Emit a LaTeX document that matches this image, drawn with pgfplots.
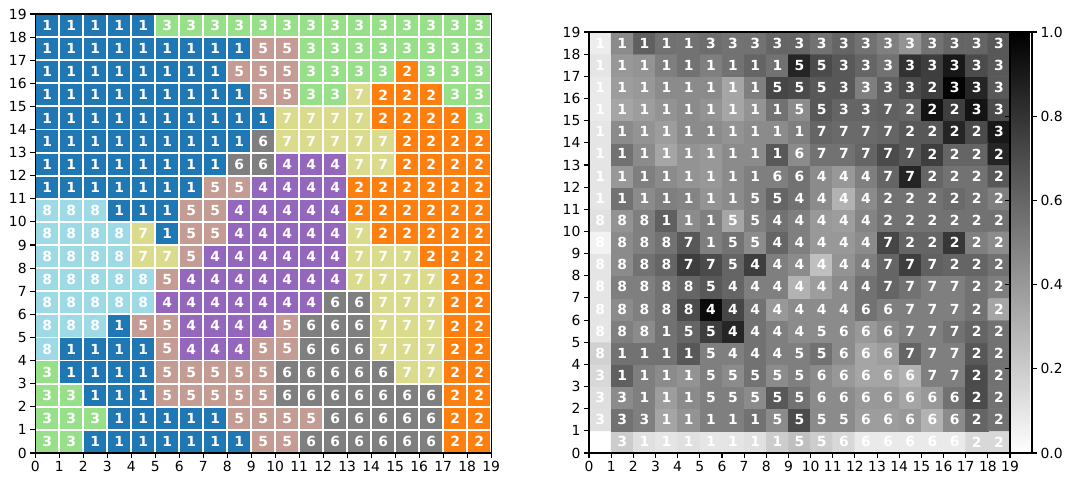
\documentclass[border=0pt]{standalone}
\usepackage{pgfplots}
\pgfplotsset{compat=1.18}
\usepackage{pgfplotstable}
\usepackage{fontspec}
\setmainfont{DejaVu Sans}

\pgfplotstableread{
x y lab v
0 0 3 0.00
1 0 3 0.20
2 0 1 0.12
3 0 1 0.10
4 0 1 0.12
5 0 1 0.10
6 0 1 0.10
7 0 1 0.12
8 0 1 0.20
9 0 5 0.25
10 0 5 0.20
11 0 6 0.15
12 0 6 0.08
13 0 6 0.08
14 0 6 0.08
15 0 6 0.08
16 0 6 0.08
17 0 2 0.15
18 0 2 0.15
0 1 3 0.12
1 1 3 0.55
2 1 3 0.50
3 1 1 0.35
4 1 1 0.42
5 1 1 0.50
6 1 1 0.50
7 1 1 0.55
8 1 5 0.45
9 1 5 0.70
10 1 5 0.45
11 1 5 0.45
12 1 6 0.38
13 1 6 0.38
14 1 6 0.40
15 1 6 0.30
16 1 6 0.45
17 1 2 0.60
18 1 2 0.55
0 2 3 0.13
1 2 3 0.45
2 2 1 0.50
3 2 1 0.38
4 2 1 0.45
5 2 5 0.50
6 2 5 0.50
7 2 5 0.45
8 2 5 0.65
9 2 5 0.55
10 2 6 0.45
11 2 6 0.45
12 2 6 0.40
13 2 6 0.40
14 2 6 0.35
15 2 6 0.40
16 2 6 0.55
17 2 2 0.70
18 2 2 0.55
0 3 3 0.15
1 3 1 0.62
2 3 1 0.50
3 3 1 0.45
4 3 1 0.42
5 3 5 0.50
6 3 5 0.45
7 3 5 0.55
8 3 5 0.45
9 3 5 0.50
10 3 6 0.45
11 3 6 0.40
12 3 6 0.35
13 3 6 0.35
14 3 6 0.30
15 3 7 0.50
16 3 7 0.50
17 3 2 0.70
18 3 2 0.55
0 4 8 0.18
1 4 1 0.55
2 4 1 0.55
3 4 1 0.55
4 4 1 0.65
5 4 5 0.50
6 4 4 0.50
7 4 4 0.55
8 4 4 0.50
9 4 5 0.50
10 4 5 0.55
11 4 6 0.45
12 4 6 0.35
13 4 6 0.38
14 4 7 0.60
15 4 7 0.50
16 4 7 0.50
17 4 2 0.65
18 4 2 0.55
0 5 8 0.10
1 5 8 0.50
2 5 8 0.45
3 5 1 0.55
4 5 5 0.60
5 5 5 0.75
6 5 4 0.85
7 5 4 0.55
8 5 4 0.50
9 5 4 0.45
10 5 5 0.45
11 5 6 0.45
12 5 6 0.40
13 5 6 0.45
14 5 7 0.50
15 5 7 0.50
16 5 7 0.55
17 5 2 0.60
18 5 2 0.55
0 6 8 0.10
1 6 8 0.45
2 6 8 0.50
3 6 8 0.55
4 6 8 0.70
5 6 4 0.95
6 6 4 0.72
7 6 4 0.55
8 6 4 0.40
9 6 4 0.45
10 6 4 0.45
11 6 4 0.45
12 6 6 0.55
13 6 6 0.50
14 6 7 0.50
15 6 7 0.50
16 6 7 0.50
17 6 2 0.55
18 6 2 0.35
0 7 8 0.10
1 7 8 0.50
2 7 8 0.50
3 7 8 0.55
4 7 8 0.60
5 7 5 0.65
6 7 4 0.60
7 7 4 0.50
8 7 4 0.50
9 7 4 0.30
10 7 4 0.38
11 7 4 0.45
12 7 4 0.55
13 7 7 0.60
14 7 7 0.55
15 7 7 0.50
16 7 7 0.50
17 7 2 0.55
18 7 2 0.50
0 8 8 0.10
1 8 8 0.45
2 8 8 0.55
3 8 8 0.60
4 8 7 0.75
5 8 7 0.70
6 8 5 0.60
7 8 4 0.75
8 8 4 0.50
9 8 4 0.45
10 8 4 0.25
11 8 4 0.42
12 8 4 0.50
13 8 7 0.60
14 8 7 0.75
15 8 7 0.62
16 8 2 0.60
17 8 2 0.60
18 8 2 0.55
0 9 8 0.05
1 9 8 0.45
2 9 8 0.50
3 9 8 0.55
4 9 7 0.65
5 9 1 0.50
6 9 5 0.55
7 9 5 0.45
8 9 4 0.60
9 9 4 0.50
10 9 4 0.40
11 9 4 0.40
12 9 4 0.45
13 9 7 0.72
14 9 2 0.60
15 9 2 0.60
16 9 2 0.78
17 9 2 0.50
18 9 2 0.45
0 10 8 0.12
1 10 8 0.42
2 10 8 0.50
3 10 1 0.62
4 10 1 0.45
5 10 1 0.50
6 10 5 0.35
7 10 5 0.50
8 10 4 0.55
9 10 4 0.50
10 10 4 0.40
11 10 4 0.38
12 10 4 0.48
13 10 2 0.55
14 10 2 0.55
15 10 2 0.55
16 10 2 0.55
17 10 2 0.55
18 10 2 0.55
0 11 1 0.10
1 11 1 0.55
2 11 1 0.45
3 11 1 0.50
4 11 1 0.48
5 11 1 0.42
6 11 1 0.45
7 11 5 0.50
8 11 5 0.60
9 11 4 0.55
10 11 4 0.45
11 11 4 0.30
12 11 4 0.45
13 11 2 0.55
14 11 2 0.55
15 11 2 0.55
16 11 2 0.58
17 11 2 0.55
18 11 2 0.50
0 12 1 0.10
1 12 1 0.40
2 12 1 0.50
3 12 1 0.45
4 12 1 0.42
5 12 1 0.40
6 12 1 0.45
7 12 1 0.50
8 12 6 0.50
9 12 6 0.55
10 12 4 0.45
11 12 4 0.40
12 12 4 0.50
13 12 7 0.60
14 12 7 0.85
15 12 2 0.60
16 12 2 0.55
17 12 2 0.55
18 12 2 0.65
0 13 1 0.10
1 13 1 0.55
2 13 1 0.45
3 13 1 0.35
4 13 1 0.42
5 13 1 0.40
6 13 1 0.45
7 13 1 0.45
8 13 1 0.65
9 13 6 0.45
10 13 7 0.55
11 13 7 0.55
12 13 7 0.60
13 13 7 0.70
14 13 7 0.65
15 13 2 0.75
16 13 2 0.60
17 13 2 0.60
18 13 2 0.85
0 14 1 0.10
1 14 1 0.45
2 14 1 0.42
3 14 1 0.38
4 14 1 0.45
5 14 1 0.45
6 14 1 0.42
7 14 1 0.45
8 14 1 0.45
9 14 1 0.50
10 14 7 0.60
11 14 7 0.58
12 14 7 0.58
13 14 7 0.60
14 14 2 0.65
15 14 2 0.65
16 14 2 0.85
17 14 2 0.70
18 14 3 0.90
0 15 1 0.08
1 15 1 0.35
2 15 1 0.38
3 15 1 0.42
4 15 1 0.45
5 15 1 0.42
6 15 1 0.35
7 15 1 0.42
8 15 1 0.55
9 15 5 0.45
10 15 5 0.65
11 15 3 0.60
12 15 3 0.60
13 15 7 0.62
14 15 2 0.60
15 15 2 0.92
16 15 2 0.75
17 15 3 0.92
18 15 3 0.70
0 16 1 0.08
1 16 1 0.38
2 16 1 0.40
3 16 1 0.45
4 16 1 0.45
5 16 1 0.45
6 16 1 0.35
7 16 1 0.50
8 16 5 0.72
9 16 5 0.70
10 16 5 0.65
11 16 3 0.65
12 16 3 0.50
13 16 3 0.62
14 16 3 0.70
15 16 2 0.75
16 16 3 0.98
17 16 3 0.85
18 16 3 0.65
0 17 1 0.10
1 17 1 0.40
2 17 1 0.42
3 17 1 0.50
4 17 1 0.55
5 17 1 0.50
6 17 1 0.55
7 17 1 0.60
8 17 1 0.55
9 17 5 0.85
10 17 5 0.70
11 17 3 0.65
12 17 3 0.60
13 17 3 0.55
14 17 3 0.80
15 17 3 0.75
16 17 3 0.90
17 17 3 0.70
18 17 3 0.65
0 18 1 0.07
1 18 1 0.45
2 18 1 0.62
3 18 1 0.55
4 18 1 0.55
5 18 3 0.57
6 18 3 0.55
7 18 3 0.55
8 18 3 0.60
9 18 3 0.60
10 18 3 0.55
11 18 3 0.60
12 18 3 0.55
13 18 3 0.50
14 18 3 0.42
15 18 3 0.55
16 18 3 0.60
17 18 3 0.60
18 18 3 0.65
}\cells

\pgfplotsset{
  tick label style={font=\fontsize{10}{12}\selectfont},
  /pgf/number format/assume math mode=true,
  somgrid/.style={
    scale only axis,
    xmin=0, xmax=19, ymin=0, ymax=19,
    xtick={0,...,19}, ytick={0,...,19},
    tick align=outside, tick pos=left,
    major tick length=3.5pt,
    every tick/.style={black, line width=0.8pt},
    axis line style={line width=0.8pt},
    xticklabel style={inner sep=1pt, yshift=-1.5pt},
    yticklabel style={inner sep=1pt, xshift=-1.5pt},
  },
  cellnum/.style={
    draw=none, mark=none,
    point meta=explicit symbolic,
    nodes near coords,
    nodes near coords style={anchor=center, inner sep=0pt, text=white,
      font=\bfseries\fontsize{10}{12}\selectfont},
  },
}

\begin{document}
\begin{tikzpicture}
\useasboundingbox (0,0) rectangle (771.84pt,357.12pt);

\begin{axis}[somgrid,
  at={(25.4pt,30.96pt)}, anchor=south west,
  width=328.2pt, height=316.1pt,
  colormap={tabcat}{rgb255=(31,119,180) rgb255=(255,127,14) rgb255=(152,223,138)
    rgb255=(148,103,189) rgb255=(196,156,148) rgb255=(127,127,127)
    rgb255=(219,219,141) rgb255=(158,218,229)},
  colormap access=direct,
  axis on top,
  grid=major, major grid style={white, line width=1.3pt},
]
\addplot[matrix plot*, mesh/cols=19, point meta=explicit]
  table[x expr=\thisrow{x}+0.5, y expr=\thisrow{y}+0.5, meta expr=\thisrow{lab}-1] {\cells};
\addplot[cellnum]
  table[x expr=\thisrow{x}+0.5, y expr=\thisrow{y}+0.5, meta=lab] {\cells};
\end{axis}

\begin{axis}[somgrid,
  at={(424.1pt,30.96pt)}, anchor=south west,
  width=303.1pt, height=303.1pt,
  colormap={wb}{color=(white) color=(black)},
  point meta min=0, point meta max=1,
  axis on top,
  colorbar,
  colorbar style={
    at={(1,1)}, anchor=north west, xshift=3.6pt,
    scale only axis, width=15.8pt, height=303.1pt,
    ytick={0,0.2,0.4,0.6,0.8,1},
    yticklabel style={/pgf/number format/fixed, /pgf/number format/fixed zerofill,
      /pgf/number format/precision=1, inner sep=1pt, xshift=1.5pt},
    tick align=outside, major tick length=3.5pt,
    every tick/.style={black, line width=0.8pt},
    axis line style={line width=0.8pt},
  },
]
\addplot[matrix plot*, mesh/cols=19, point meta=explicit]
  table[x expr=\thisrow{x}+0.5, y expr=\thisrow{y}+0.5, meta=v] {\cells};
\addplot[cellnum]
  table[x expr=\thisrow{x}+0.5, y expr=\thisrow{y}+0.5, meta=lab] {\cells};
\end{axis}
\end{tikzpicture}
\end{document}
